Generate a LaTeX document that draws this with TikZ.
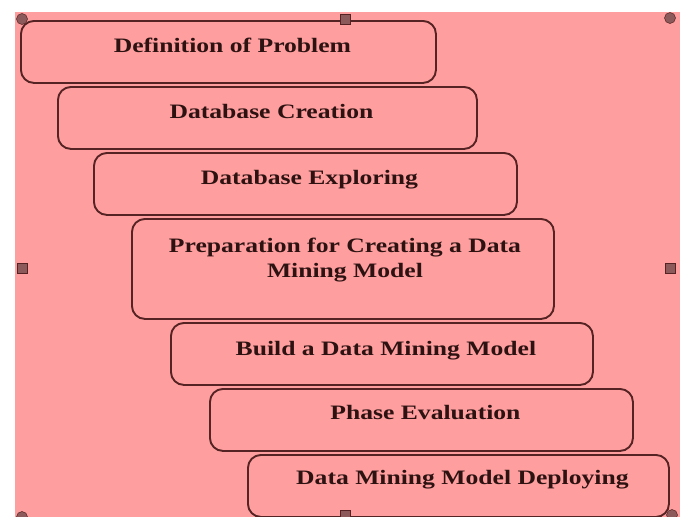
\documentclass[tikz,border=0pt]{standalone}
\usepackage{fontspec}
\setmainfont{Liberation Serif}[FakeStretch=1.25]
\usetikzlibrary{positioning}
\definecolor{sheet}{RGB}{255,158,158}
\definecolor{rim}{RGB}{85,35,35}
\definecolor{grip}{RGB}{140,90,90}
\definecolor{ink}{RGB}{45,18,18}
\tikzset{
  stepbox/.style={draw=rim, line width=1.9pt, fill=sheet, rounded corners=13pt,
    minimum width=420pt, minimum height=62pt, anchor=north west, inner sep=0pt},
  steptext/.style={text=ink, font=\fontsize{20.5}{25}\selectfont\bfseries,
    anchor=base, align=center, inner sep=0pt},
  gripdot/.style={circle, fill=grip, draw=rim, line width=0.5pt, minimum size=11pt, inner sep=0pt},
  gripsq/.style={rectangle, fill=grip, draw=rim, line width=0.8pt, minimum size=10pt, inner sep=0pt}
}

\begin{document}
\begin{tikzpicture}[x=1pt,y=1pt]

  \useasboundingbox (0,0) rectangle (686,-517);
  \fill[sheet] (15,-12) rectangle (680,-517);

  % the steps, each one shifted right and down
  \node[stepbox, minimum width=415pt] (def)      at (20,-20)  {};
  \node[stepbox, minimum width=419pt] (create)   at (57,-86)  {};
  \node[stepbox, minimum width=423pt] (explore)  at (93,-152) {};
  \node[stepbox, minimum width=422pt, minimum height=100pt] (prepare) at (131,-218) {};
  \node[stepbox, minimum width=422pt] (build)    at (170,-322) {};
  \node[stepbox, minimum width=423pt] (evaluate) at (209,-388) {};
  \node[stepbox, minimum width=421pt] (deploy)   at (247,-454) {};

  \node[steptext] (defT)      at ([xshift=4pt, yshift=-32pt]def.north)      {Definition of Problem};
  \node[steptext] (createT)   at ([xshift=4pt, yshift=-32pt]create.north)   {Database Creation};
  \node[steptext] (exploreT)  at ([xshift=4pt, yshift=-32pt]explore.north)  {Database Exploring};
  \node[steptext] (prepareT)  at ([xshift=2pt, yshift=-59pt]prepare.north)  {Preparation for Creating a Data\\Mining Model};
  \node[steptext] (buildT)    at ([xshift=4pt, yshift=-33pt]build.north)    {Build a Data Mining Model};
  \node[steptext] (evaluateT) at ([xshift=4pt, yshift=-31pt]evaluate.north) {Phase Evaluation};
  \node[steptext] (deployT)   at ([xshift=4pt, yshift=-30pt]deploy.north)   {Data Mining Model Deploying};

  % selection handles
  \node[gripdot] (hNW) at (22,-19)   {};
  \node[gripsq]  (hN)  at (345,-19)  {};
  \node[gripdot] (hNE) at (670,-18)  {};
  \node[gripsq]  (hW)  at (22,-268)  {};
  \node[gripsq]  (hE)  at (670,-268) {};
  \node[gripdot] (hSW) at (22,-517)  {};
  \node[gripsq]  (hS)  at (345,-515) {};
  \node[gripdot] (hSE) at (672,-515) {};

\end{tikzpicture}
\end{document}
